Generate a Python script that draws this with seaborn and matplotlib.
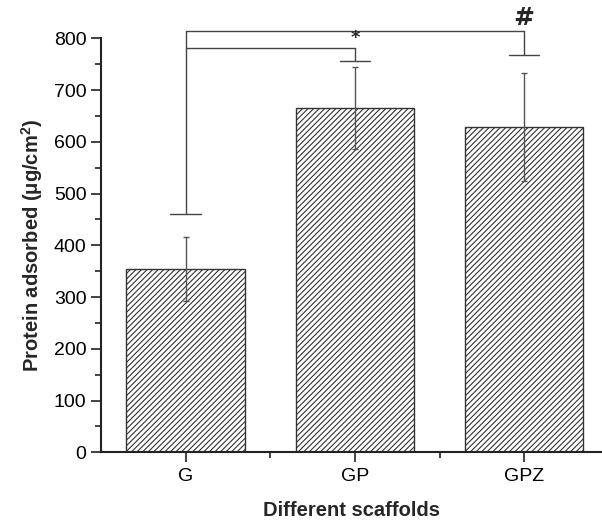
import numpy as np
import matplotlib
matplotlib.use("Agg")
import matplotlib.pyplot as plt
import seaborn as sns

scaffolds = ["G", "GP", "GPZ"]
protein = [354, 666, 628]
protein_sd = [62, 79, 104]

# significance brackets: (from, to, line height, cap height, mark)
brackets = [(0, 1, 781, 756, "*"), (0, 2, 814, 768, "#")]
g_cap = 460

sns.set_style("ticks")
plt.rcParams["font.family"] = ["Liberation Sans", "DejaVu Sans"]
plt.rcParams["hatch.linewidth"] = 0.8
plt.rcParams["hatch.color"] = "#333333"
plt.rcParams["mathtext.fontset"] = "custom"
plt.rcParams["mathtext.rm"] = "Liberation Sans:bold"
plt.rcParams["mathtext.it"] = "Liberation Sans:bold"

fig = plt.figure(figsize=(6.02, 5.24), dpi=100)
ax = fig.add_axes([0.1678, 0.1368, 0.8322, 0.7901])

sns.barplot(x=scaffolds, y=protein, color="white", saturation=1, edgecolor="#333333",
            linewidth=1.0, width=0.7, errorbar=None, ax=ax)
for p in ax.patches:
    p.set_hatch("//////")

xs = np.arange(len(scaffolds))
ax.errorbar(xs, protein, yerr=protein_sd, fmt="none", ecolor="#555555",
            elinewidth=1.0, capsize=2.5, capthick=1.0, zorder=3)

# brackets
lc = "#444444"
ax.plot([0, 0], [max(b[2] for b in brackets), g_cap], color=lc, lw=1, clip_on=False)
ax.plot([-0.09, 0.09], [g_cap, g_cap], color=lc, lw=1, clip_on=False)
for i0, i1, h, cap, mark in brackets:
    ax.plot([i0, i1], [h, h], color=lc, lw=1, clip_on=False)
    ax.plot([i1, i1], [h, cap], color=lc, lw=1, clip_on=False)
    ax.plot([i1 - 0.09, i1 + 0.09], [cap, cap], color=lc, lw=1, clip_on=False)
    fs = 13 if mark == "*" else 18
    ax.text(i1, h + 2, mark, ha="center", va="bottom", fontsize=fs, fontweight="bold",
            family="DejaVu Sans", clip_on=False)

ax.set_xlim(-0.5, 2.46)
ax.set_ylim(0, 800)
ax.set_yticks(np.arange(0, 801, 100))
ax.set_yticks(np.arange(50, 800, 100), minor=True)
ax.set_xticks([0.5, 1.5], minor=True)
ax.tick_params(axis="both", which="major", length=7, width=1.2, color="#222222",
               labelcolor="black", labelsize=14, direction="out")
ax.tick_params(axis="both", which="minor", length=4, width=1.2, color="#222222",
               direction="out")
ax.tick_params(axis="x", pad=4)
sns.despine(ax=ax)
for s in ["left", "bottom"]:
    ax.spines[s].set_linewidth(1.5)
    ax.spines[s].set_color("#222222")

ax.set_xlabel("Different scaffolds", fontsize=14.5, fontweight="bold", labelpad=12)
ax.set_ylabel("Protein adsorbed (μg/cm$^2$)", fontsize=14.5, fontweight="bold", labelpad=6)

fig.savefig("out.png", dpi=100)
